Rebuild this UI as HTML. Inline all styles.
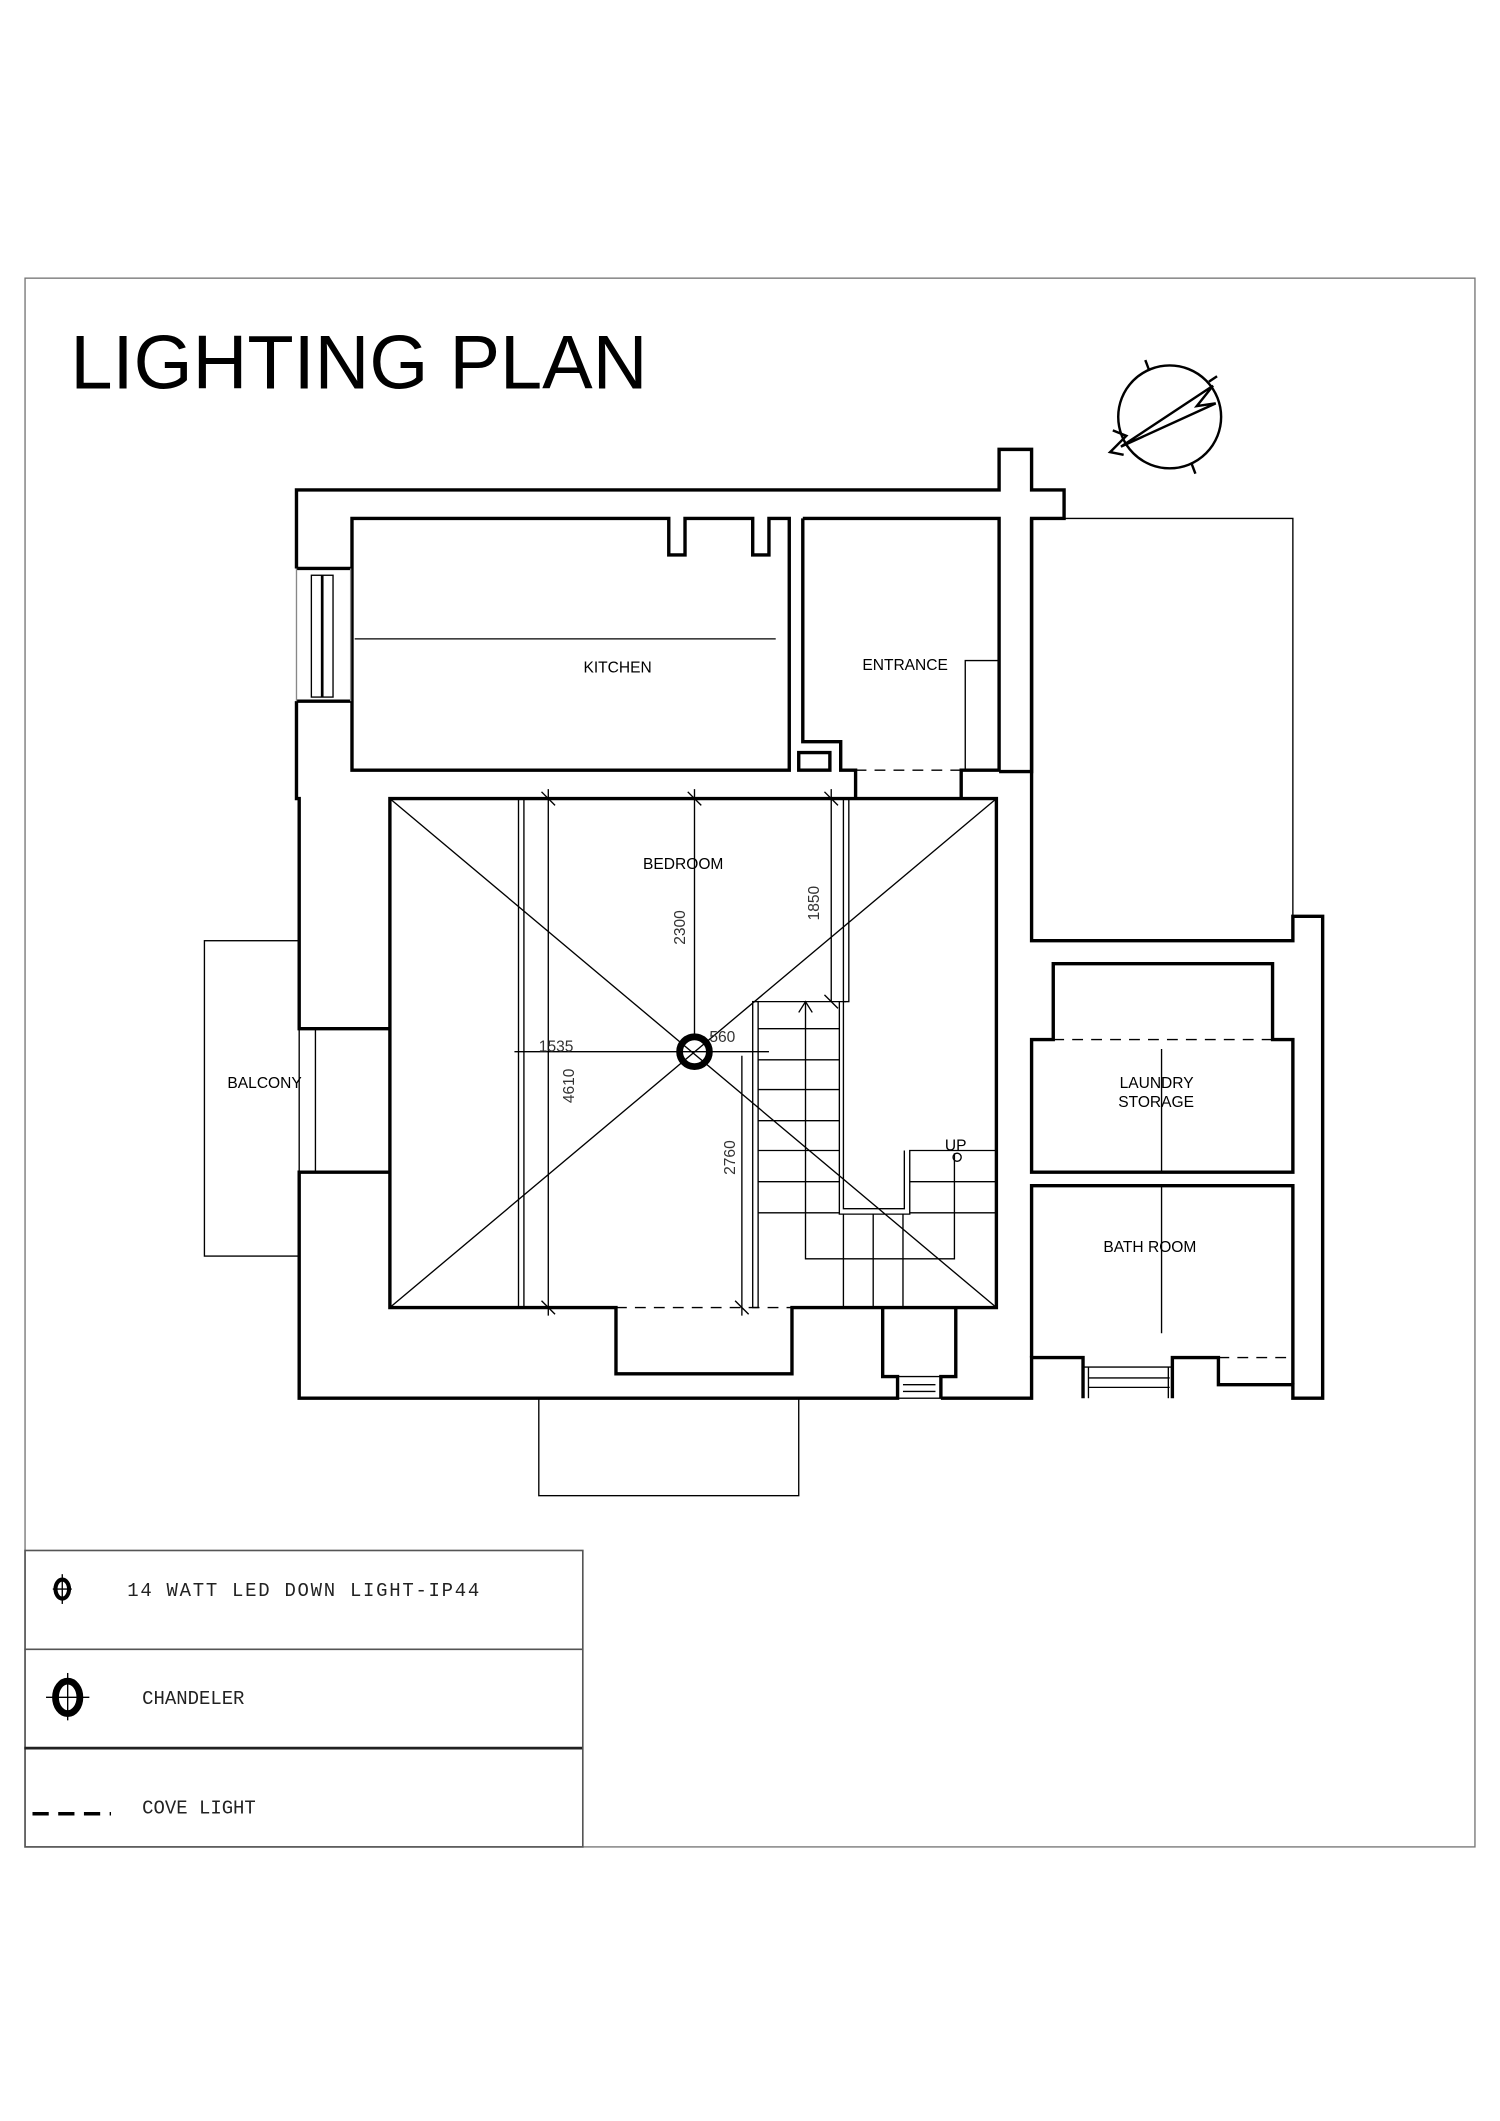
<!DOCTYPE html>
<html><head><meta charset="utf-8"><style>html,body{margin:0;padding:0;background:#fff}svg{display:block}</style></head>
<body>
<svg width="1500" height="2121" viewBox="0 0 1108 1567" preserveAspectRatio="none" xmlns="http://www.w3.org/2000/svg" font-family="Liberation Sans, sans-serif">
<rect x="0" y="0" width="1108" height="1567" fill="#fff"/>
<rect x="18.5" y="205.5" width="1071" height="1159" fill="none" stroke="#777" stroke-width="1"/>
<text x="52" y="287" font-size="56">LIGHTING PLAN</text>
<!-- compass -->
<g stroke="#000" fill="none" stroke-width="1.8">
<circle cx="864" cy="308" r="38"/>
<line x1="846" y1="266" x2="849" y2="274"/><line x1="880" y1="342" x2="883" y2="350"/>
<line x1="893" y1="282" x2="899" y2="278"/>
<path d="M828 330 L896 285 L884 300 L898 298 Z"/>
<path d="M822 318 L832 322 L820 334 L830 336"/>
</g>
<g fill="none" stroke="#000" stroke-width="2.5" stroke-linejoin="miter">
<path d="M219 420 L219 362 L738 362 L738 332 L762 332 L762 362 L786 362 L786 383 L762 383 L762 570 L738 570"/>
<path d="M219 420 L260 420 M219 518 L260 518"/>
<path d="M219 518 L219 590 L221 590 L221 760 L288 760"/>
<path d="M288 866 L221 866 L221 1033 L663 1033 L663 1017 L652 1017 L652 966"/>
<path d="M695 1033 L695 1017 L706 1017 L706 966"/>
<path d="M695 1033 L762 1033 L762 1003 L800 1003 L800 1033"/>
<path d="M866 1033 L866 1003 L900 1003 L900 1023 L955 1023 L955 1033 L977 1033 L977 677 L955 677 L955 695 L762 695 L762 383"/>
<!-- kitchen -->
<path d="M260 383 L494 383 L494 410 L506 410 L506 383 L556 383 L556 410 L568 410 L568 383 L583 383 L583 569 L260 569 Z"/>
<!-- entrance -->
<path d="M593 383 L738 383 L738 569 L710 569 L710 590"/>
<path d="M593 383 L593 548 L621 548 L621 569 L632 569 L632 590"/>
<rect x="590" y="556" width="23" height="13"/>
<!-- bedroom -->
<path d="M288 590 L736 590 L736 966 L585 966 L585 1015 L455 1015 L455 966 L288 966 Z"/>
<!-- laundry -->
<path d="M762 768 L778 768 L778 712 L940 712 L940 768 L955 768 L955 866 L762 866 Z"/>
<!-- bath -->
<path d="M762 1003 L762 876 L955 876 L955 1023"/>
</g>
<g fill="none" stroke="#000" stroke-width="1">
<line x1="219" y1="420" x2="219" y2="518" stroke="#888"/><line x1="259" y1="420" x2="259" y2="518" stroke="#888"/>
<rect x="230" y="425" width="16" height="90"/><line x1="238" y1="425" x2="238" y2="515" stroke-width="2"/>
<rect x="663" y="1017" width="32" height="16"/><line x1="667" y1="1023" x2="691" y2="1023"/><line x1="667" y1="1028" x2="691" y2="1028"/>
<line x1="800" y1="1010" x2="866" y2="1010"/><line x1="804" y1="1018" x2="864" y2="1018"/><line x1="804" y1="1025" x2="864" y2="1025"/>
<line x1="804" y1="1010" x2="804" y2="1033"/><line x1="863" y1="1010" x2="863" y2="1033"/>
<path d="M713 569 L713 488 L738 488"/>
<path d="M786 383 L955 383 L955 677"/>
<line x1="262" y1="472" x2="573" y2="472"/>
<rect x="151" y="695" width="70" height="233"/>
<line x1="233" y1="760" x2="233" y2="866"/>
<rect x="398" y="1033" width="192" height="72"/>
<line x1="288" y1="590" x2="736" y2="966"/><line x1="736" y1="590" x2="288" y2="966"/>
<rect x="383" y="590" width="4" height="376"/><rect x="556" y="740" width="4" height="226"/><rect x="623" y="590" width="4" height="150"/>
<line x1="405" y1="583" x2="405" y2="972"/><line x1="513" y1="583" x2="513" y2="765"/><line x1="614" y1="583" x2="614" y2="740"/><line x1="548" y1="780" x2="548" y2="972"/>
<line x1="380" y1="777" x2="568" y2="777"/>
<line x1="400" y1="585" x2="410" y2="595"/><line x1="508" y1="585" x2="518" y2="595"/><line x1="609" y1="585" x2="619" y2="595"/>
<line x1="400" y1="961" x2="410" y2="971"/><line x1="543" y1="961" x2="553" y2="971"/><line x1="609" y1="735" x2="619" y2="745"/>
<line x1="560" y1="740" x2="625" y2="740"/>
<path d="M595 740 L595 930 L705 930 L705 852"/><path d="M590 748 L595 740 L600 748"/>
<path d="M620 740 L620 897 L672 897 L672 850 L736 850 M623 740 L623 893 L668 893 L668 850"/>
<line x1="560" y1="760" x2="620" y2="760"/><line x1="560" y1="783" x2="620" y2="783"/><line x1="560" y1="805" x2="620" y2="805"/>
<line x1="560" y1="828" x2="620" y2="828"/><line x1="560" y1="850" x2="620" y2="850"/><line x1="560" y1="873" x2="620" y2="873"/><line x1="672" y1="873" x2="736" y2="873"/>
<line x1="560" y1="896" x2="620" y2="896"/><line x1="672" y1="896" x2="736" y2="896"/>
<line x1="623" y1="897" x2="623" y2="966"/><line x1="645" y1="897" x2="645" y2="966"/><line x1="667" y1="897" x2="667" y2="966"/>
<circle cx="707" cy="855" r="3"/>
<line x1="858" y1="775" x2="858" y2="866"/><line x1="858" y1="876" x2="858" y2="985"/>
</g>
<g stroke="#000" stroke-width="1" stroke-dasharray="8,6" fill="none">
<line x1="632" y1="569" x2="710" y2="569"/><line x1="632" y1="590" x2="710" y2="590"/>
<line x1="455" y1="966" x2="585" y2="966"/><line x1="585" y1="966" x2="652" y2="966"/>
<line x1="778" y1="768" x2="940" y2="768"/><line x1="900" y1="1003" x2="955" y2="1003"/>
</g>
<circle cx="513" cy="777" r="11" fill="none" stroke="#000" stroke-width="5"/>
<g font-size="11.5">
<text x="431" y="497">KITCHEN</text>
<text x="637" y="495">ENTRANCE</text>
<text x="475" y="642">BEDROOM</text>
<text x="168" y="804">BALCONY</text>
<text x="827" y="804">LAUNDRY</text>
<text x="826" y="818">STORAGE</text>
<text x="815" y="925">BATH ROOM</text>
<text x="698" y="850">UP</text>
<text x="398" y="777" fill="#333">1535</text>
<text x="524" y="770" fill="#333">560</text>
<text transform="translate(506,698) rotate(-90)" fill="#333">2300</text>
<text transform="translate(605,680) rotate(-90)" fill="#333">1850</text>
<text transform="translate(424,815) rotate(-90)" fill="#333">4610</text>
<text transform="translate(543,868) rotate(-90)" fill="#333">2760</text>
</g>
<g fill="none" stroke="#555" stroke-width="1.2">
<rect x="18.5" y="1145.5" width="412" height="219"/>
<line x1="18" y1="1218.5" x2="430" y2="1218.5"/><line x1="18" y1="1291.5" x2="430" y2="1291.5" stroke="#222" stroke-width="2"/>
</g>
<g stroke="#000" fill="none">
<ellipse cx="46" cy="1174" rx="5" ry="7" stroke-width="3"/><line x1="46" y1="1163" x2="46" y2="1185"/><line x1="39" y1="1174" x2="53" y2="1174"/>
<ellipse cx="50" cy="1254" rx="9" ry="12" stroke-width="5"/><line x1="50" y1="1236" x2="50" y2="1271"/><line x1="34" y1="1254" x2="66" y2="1254"/>
<line x1="24" y1="1340" x2="82" y2="1340" stroke-width="2.5" stroke-dasharray="12,7"/>
</g>
<g font-family="Liberation Mono, monospace" font-size="14" fill="#222">
<text x="94" y="1179" textLength="260">14 WATT LED DOWN LIGHT-IP44</text>
<text x="105" y="1259">CHANDELER</text>
<text x="105" y="1340">COVE LIGHT</text>
</g>
</svg>
</body></html>
